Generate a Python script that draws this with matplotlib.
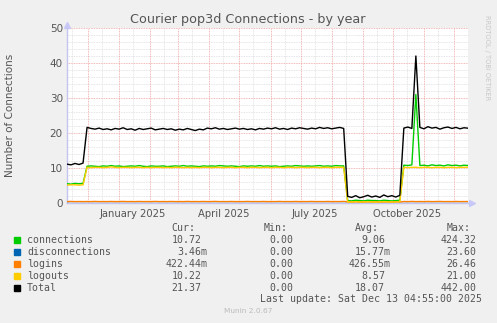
import matplotlib
matplotlib.use('Agg')
import matplotlib.pyplot as plt
import matplotlib.dates as mdates
from matplotlib.patches import Rectangle
import numpy as np

# 数据：每4天一个采样点（rrdtool 年视图）
start = np.datetime64('2024-11-10')
step_days = 4

connections = (
    [5.5, 5.4, 5.6, 5.5, 5.6]
    + [10.5, 10.6, 10.5, 10.4, 10.6, 10.5, 10.7, 10.5, 10.6, 10.4, 10.5, 10.6, 10.5, 10.7, 10.5, 10.4, 10.6, 10.5, 10.5, 10.6,
       10.4, 10.5, 10.6, 10.5, 10.7, 10.5, 10.6, 10.5, 10.4, 10.6, 10.5, 10.6, 10.5, 10.7, 10.6, 10.5, 10.6, 10.5, 10.4, 10.6,
       10.5, 10.6, 10.5, 10.7, 10.5, 10.6, 10.5, 10.6, 10.4, 10.5, 10.6, 10.5, 10.7, 10.6, 10.5, 10.6, 10.5, 10.6, 10.7, 10.5,
       10.6, 10.5, 10.7, 10.6, 10.6]
    + [0.7, 0.6, 0.8, 0.7, 0.6, 0.8, 0.7, 0.7, 0.6, 0.8, 0.7, 0.6, 0.7, 0.8]
    + [10.8, 10.7, 10.9, 31.0, 10.7, 10.8, 10.6, 10.9, 10.7, 10.8, 10.6, 10.9, 10.7, 10.8, 10.6, 10.8, 10.72]
)
disconnections = (
    [0.0, 0.0, 0.0, 0.0, 0.0]
    + [0.0, 0.0, 0.0, 0.0, 0.0, 0.0, 0.0, 0.0, 0.0, 0.0, 0.0, 0.0, 0.0, 0.0, 0.0, 0.0, 0.0, 0.0, 0.0, 0.0,
       0.0, 0.0, 0.0, 0.0, 0.0, 0.0, 0.0, 0.0, 0.0, 0.0, 0.0, 0.0, 0.0, 0.0, 0.0, 0.0, 0.0, 0.0, 0.0, 0.0,
       0.0, 0.0, 0.0, 0.0, 0.0, 0.0, 0.0, 0.0, 0.0, 0.0, 0.0, 0.0, 0.0, 0.0, 0.0, 0.0, 0.0, 0.0, 0.0, 0.0,
       0.0, 0.0, 0.0, 0.0, 0.0]
    + [0.0, 0.0, 0.0, 0.0, 0.0, 0.0, 0.0, 0.0, 0.0, 0.0, 0.0, 0.0, 0.0, 0.0]
    + [0.0, 0.0, 0.0, 0.0, 0.0, 0.0, 0.0, 0.0, 0.0, 0.0, 0.0, 0.0, 0.0, 0.0, 0.0, 0.0, 0.0]
)
logins = (
    [0.4, 0.45, 0.4, 0.42, 0.4]
    + [0.42, 0.4, 0.45, 0.4, 0.42, 0.4, 0.44, 0.4, 0.42, 0.45, 0.4, 0.42, 0.4, 0.44, 0.4, 0.42, 0.4, 0.45, 0.4, 0.42,
       0.4, 0.44, 0.4, 0.42, 0.4, 0.45, 0.4, 0.42, 0.4, 0.44, 0.4, 0.42, 0.45, 0.4, 0.42, 0.4, 0.44, 0.4, 0.42, 0.4,
       0.45, 0.4, 0.42, 0.4, 0.44, 0.4, 0.42, 0.4, 0.45, 0.4, 0.42, 0.4, 0.44, 0.4, 0.42, 0.4, 0.45, 0.4, 0.42, 0.4,
       0.44, 0.4, 0.42, 0.4, 0.45]
    + [0.35, 0.3, 0.35, 0.3, 0.32, 0.35, 0.3, 0.35, 0.3, 0.32, 0.35, 0.3, 0.35, 0.3]
    + [0.42, 0.4, 0.45, 0.4, 0.42, 0.4, 0.44, 0.4, 0.42, 0.45, 0.4, 0.42, 0.4, 0.44, 0.4, 0.42, 0.42]
)
logouts = (
    [5.1, 5.2, 5.2, 5.1, 5.2]
    + [10.2, 10.1, 10.2, 10.2, 10.1, 10.2, 10.3, 10.2, 10.1, 10.2, 10.2, 10.1, 10.2, 10.2, 10.1, 10.2, 10.1, 10.2, 10.2, 10.1,
       10.2, 10.1, 10.2, 10.2, 10.1, 10.2, 10.1, 10.2, 10.1, 10.2, 10.2, 10.1, 10.2, 10.2, 10.1, 10.2, 10.2, 10.1, 10.2, 10.2,
       10.1, 10.2, 10.2, 10.1, 10.2, 10.2, 10.1, 10.2, 10.2, 10.1, 10.2, 10.2, 10.1, 10.2, 10.2, 10.1, 10.2, 10.2, 10.1, 10.2,
       10.2, 10.1, 10.2, 10.2, 10.2]
    + [0.3, 0.3, 0.4, 0.3, 0.3, 0.4, 0.3, 0.3, 0.3, 0.4, 0.3, 0.3, 0.3, 0.4]
    + [10.2, 10.1, 10.2, 10.2, 10.1, 10.2, 10.2, 10.1, 10.2, 10.2, 10.1, 10.2, 10.2, 10.1, 10.2, 10.2, 10.22]
)
total = (
    [11.1, 10.9, 11.3, 11.0, 11.4]
    + [21.6, 21.3, 21.1, 21.4, 21.0, 21.2, 20.9, 21.3, 21.1, 21.5, 21.0, 21.2, 20.8, 21.3, 21.0, 21.2, 21.4, 20.9, 21.1, 21.3,
       21.0, 21.2, 20.8, 21.1, 20.9, 21.3, 21.0, 20.7, 21.1, 20.9, 21.4, 21.2, 21.5, 21.1, 21.3, 21.0, 21.2, 21.4, 21.1, 21.3,
       21.0, 21.2, 20.9, 21.3, 21.1, 21.4, 21.2, 21.5, 21.1, 21.3, 21.0, 21.4, 21.2, 21.5, 21.3, 21.1, 21.4, 21.2, 21.6, 21.3,
       21.5, 21.2, 21.4, 21.6, 21.3]
    + [1.9, 1.6, 2.1, 1.5, 1.8, 2.2, 1.7, 2.0, 1.6, 2.3, 1.8, 2.1, 1.7, 2.2]
    + [21.4, 21.7, 21.3, 42.0, 21.6, 21.2, 21.8, 21.4, 21.6, 21.1, 21.5, 21.7, 21.3, 21.6, 21.2, 21.5, 21.37]
)

names = ['connections', 'disconnections', 'logins', 'logouts', 'Total']
colors = ['#00CC00', '#0066B3', '#FF8000', '#FFCC00', '#000000']
cur = ['10.72', '3.46m', '422.44m', '10.22', '21.37']
mins = ['0.00', '0.00', '0.00', '0.00', '0.00']
avgs = ['9.06', '15.77m', '426.55m', '8.57', '18.07']
maxs = ['424.32', '23.60', '26.46', '21.00', '442.00']

series = [connections, disconnections, logins, logouts, total]
dates = start + np.arange(len(total)) * np.timedelta64(step_days, 'D')
x = mdates.date2num(dates)

W, H = 497, 323
BG = '#F0F0F0'
TXT = '#555555'

fig = plt.figure(figsize=(W / 100, H / 100), dpi=100, facecolor=BG)
ax = fig.add_axes([67 / W, 1 - 203 / H, (468 - 67) / W, (203 - 28) / H])
ax.set_facecolor('white')

for vals, c in zip(series, colors):
    ax.plot(x, vals, color=c, lw=1.0, zorder=3)

ax.set_ylim(0, 50)
ax.set_xlim(x[0], x[-1])

# 网格：主网格红色，次网格灰色
ax.set_yticks(np.arange(0, 51, 10))
ax.set_yticks(np.arange(0, 51, 2), minor=True)
ax.xaxis.set_major_locator(mdates.MonthLocator(bymonthday=15))
ax.xaxis.set_minor_locator(mdates.MonthLocator(bymonthday=1))

def fmt(v, pos):
    d = mdates.num2date(v)
    if d.month in (1, 4, 7, 10):
        return d.strftime('%B %Y')
    return ''

ax.xaxis.set_major_formatter(plt.FuncFormatter(fmt))
ax.grid(False)
for yv in np.arange(0, 51, 2):
    if yv % 10:
        ax.axhline(yv, color='#DDDDDD', lw=0.6, ls=(0, (1, 1)), zorder=1)
    else:
        ax.axhline(yv, color='#F0A0A0', lw=0.6, ls=(0, (1, 1)), zorder=1.5)
for xv in ax.xaxis.get_majorticklocs():
    ax.axvline(xv, color='#DDDDDD', lw=0.6, ls=(0, (1, 1)), zorder=1)
for xv in ax.xaxis.get_minorticklocs():
    ax.axvline(xv, color='#F0A0A0', lw=0.6, ls=(0, (1, 1)), zorder=1.5)

ax.tick_params(which='both', length=0, labelsize=7.5, labelcolor=TXT, pad=3)
ax.tick_params(axis='x', labelsize=7.2, pad=4)
for s in ['top', 'right']:
    ax.spines[s].set_visible(False)
for s in ['left', 'bottom']:
    ax.spines[s].set_color('#C4C4F0')
    ax.spines[s].set_linewidth(1.0)
ax.plot([0], [1.02], marker='^', ms=5, color='#C8C8F8', transform=ax.transAxes, clip_on=False)
ax.plot([1.01], [0], marker='>', ms=5, color='#C8C8F8', transform=ax.transAxes, clip_on=False)

fig.text(248 / W, 1 - 19 / H, 'Courier pop3d Connections - by year', ha='center', va='center',
         fontsize=9.2, color=TXT)
fig.text(10 / W, 1 - 115 / H, 'Number of Connections', rotation=90, ha='center', va='center',
         fontsize=7.5, color=TXT)
fig.text(487 / W, 1 - 58 / H, 'RRDTOOL / TOBI OETIKER', rotation=270, ha='center', va='center',
         fontsize=4.8, color='#C8C8C8')

# 图例表格
mono = dict(family='DejaVu Sans Mono', fontsize=7.1, color=TXT, va='center')
cw = 5.9
col_end = [201.7, 293.3, 385.0, 476.7]
headers = ['Cur:', 'Min:', 'Avg:', 'Max:']
for h, xe in zip(headers, col_end):
    fig.text((xe - cw) / W, 1 - 228 / H, h, ha='right', **mono)

rows_y = [240, 252, 264, 276, 288]
for i, yy in enumerate(rows_y):
    fig.add_artist(Rectangle((14 / W, 1 - (yy + 3) / H), 6 / W, 6 / H, color=colors[i],
                             transform=fig.transFigure))
    fig.text(27 / W, 1 - yy / H, names[i], ha='left', **mono)
    for vals, xe in zip([cur, mins, avgs, maxs], col_end):
        v = vals[i]
        right = xe + cw if v.endswith('m') else xe
        fig.text(right / W, 1 - yy / H, v, ha='right', **mono)

fig.text(482 / W, 1 - 299 / H, 'Last update: Sat Dec 13 04:55:00 2025', ha='right', **mono)
fig.text(248 / W, 1 - 311 / H, 'Munin 2.0.67', ha='center', va='center', fontsize=5.3, color='#BBBBBB')

fig.savefig('out.png', dpi=100, facecolor=BG)
